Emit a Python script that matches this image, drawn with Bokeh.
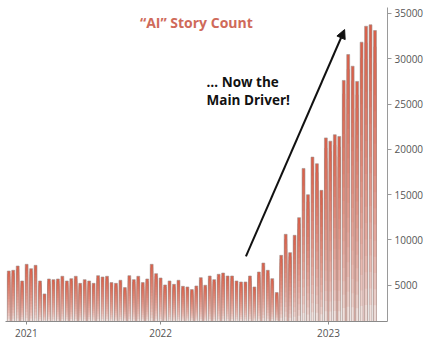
import numpy as np
from bokeh.plotting import figure
from bokeh.models import Range1d, FixedTicker, Label, Arrow, NormalHead, ColumnDataSource
from bokeh.embed import file_html
from bokeh.resources import INLINE

# ---- data ----
story_counts = [
    6570, 6650, 7120, 5470, 7310, 6830, 7200, 5470, 4040, 5690,
    5620, 5690, 5990, 5470, 5730, 5990, 5210, 5620, 5470, 5210,
    6060, 5910, 5990, 5290, 5210, 5550, 4740, 6060, 5620, 5990,
    5290, 5690, 7310, 6280, 5800, 5030, 5470, 5100, 5550, 4880,
    4810, 4520, 4920, 5840, 5000, 6020, 5620, 6210, 6350, 6020,
    6020, 5470, 5360, 5360, 6020, 4810, 6460, 7450, 6650, 5730,
    4190, 8300, 10620, 8600, 10510, 12460, 17890, 14990, 19140, 18410,
    15470, 21260, 20900, 21610, 21420, 27600, 30460, 29170, 27490, 31820,
    33580, 33740, 33110,
]
year_tick_pos = [3.94, 34.0, 71.6]
year_tick_labels = ["2021", "2022", "2023"]
count_ticks = [5000, 10000, 15000, 20000, 25000, 30000, 35000]
title_text = "\u201cAI\u201d Story Count"
note_lines = ["\u2026 Now the", "Main Driver!"]

# ---- styling ----
Y0 = 1000
TOP_COL = np.array([0xDA, 0x5E, 0x47])
BOT_COL = np.array([0xF3, 0xF0, 0xEF])
N_SEG = 18
BAR_W = 0.64

p = figure(width=426, height=343, output_backend="svg", toolbar_location=None,
           x_range=Range1d(-0.73, 84.8), y_range=Range1d(Y0, 35650),
           y_axis_location="right",
           min_border_left=5, min_border_top=7, min_border_right=37, min_border_bottom=22)
p.outline_line_color = None
p.xgrid.visible = False
p.ygrid.visible = False
p.background_fill_color = "white"
p.border_fill_color = "white"

# gradient bars: layered full-height rects, top colour first, lower colours over it
xs, tops, cols = [], [], []
for k in range(N_SEG - 1, -1, -1):
    f = ((k + 0.5) / N_SEG) ** 0.6
    c = BOT_COL + (TOP_COL - BOT_COL) * f
    col = "#%02x%02x%02x" % tuple(int(round(z)) for z in c)
    for i, v in enumerate(story_counts):
        xs.append(i)
        tops.append(Y0 + (v - Y0) * (k + 1) / N_SEG)
        cols.append(col)
seg = ColumnDataSource(dict(x=xs, top=tops, color=cols))
p.vbar(x="x", bottom=Y0, top="top", width=BAR_W, fill_color="color",
       line_color=None, source=seg)

src = ColumnDataSource(dict(x=list(range(len(story_counts))), top=story_counts))
p.vbar(x="x", top="top", bottom=Y0, width=BAR_W, fill_alpha=0,
       line_color="#9c8f8c", line_width=0.6, source=src)

# axes
p.yaxis.ticker = FixedTicker(ticks=count_ticks)
p.yaxis.axis_line_color = "#9a9a9a"
p.yaxis.major_tick_line_color = "#9a9a9a"
p.yaxis.major_tick_out = 4
p.yaxis.major_tick_in = 0
p.yaxis.minor_tick_line_color = None
p.yaxis.major_label_text_font = "Open Sans"
p.yaxis.major_label_text_font_size = "10px"
p.yaxis.major_label_text_color = "#555555"
p.yaxis.major_label_standoff = 3

p.xaxis.ticker = FixedTicker(ticks=year_tick_pos)
p.xaxis.major_label_overrides = {pos: lab for pos, lab in zip(year_tick_pos, year_tick_labels)}
p.xaxis.axis_line_color = "#8a8a8a"
p.xaxis.major_tick_line_color = "#8a8a8a"
p.xaxis.major_tick_out = 3
p.xaxis.major_tick_in = 0
p.xaxis.minor_tick_line_color = None
p.xaxis.major_label_text_font = "Open Sans"
p.xaxis.major_label_text_font_size = "10px"
p.xaxis.major_label_text_color = "#555555"
p.xaxis.major_label_standoff = 4

# title and annotation
p.add_layout(Label(x=42.0, y=34000, text=title_text, text_align="center",
                   text_baseline="middle", text_font="Open Sans", text_font_style="bold",
                   text_font_size="14px", text_color="#cf6a5a"))
p.add_layout(Label(x=44.3, y=27380, text=note_lines[0], text_align="left",
                   text_baseline="middle", text_font="Open Sans", text_font_style="bold",
                   text_font_size="13.5px", text_color="#111111"))
p.add_layout(Label(x=44.3, y=25490, text=note_lines[1], text_align="left",
                   text_baseline="middle", text_font="Open Sans", text_font_style="bold",
                   text_font_size="13.5px", text_color="#111111"))
p.add_layout(Arrow(end=NormalHead(size=9, fill_color="#111111", line_color="#111111"),
                   x_start=53.1, y_start=8190, x_end=75.2, y_end=33220,
                   line_width=2, line_color="#111111"))

open("out.html", "w").write(file_html(p, INLINE))
